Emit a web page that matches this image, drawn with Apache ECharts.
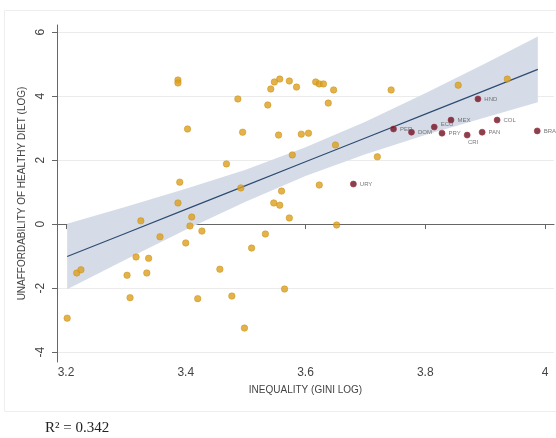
<!DOCTYPE html>
<html><head><meta charset="utf-8">
<script src="https://cdn.jsdelivr.net/npm/echarts@6/dist/echarts.min.js"></script>
<style>html,body{margin:0;padding:0;background:#fff}#c{width:556px;height:438px}</style>
</head><body><div id="c"></div>
<script>
// ---- data ----
const xTicks = [3.2, 3.4, 3.6, 3.8, 4];
const yTicks = [-4, -2, 0, 2, 4, 6];

// unlabelled (orange) countries: Gini log vs unaffordability log
const otherX = [3.387, 3.387, 3.403, 3.390, 3.387, 3.410, 3.407, 3.427, 3.400, 3.325,
                3.357, 3.317, 3.338, 3.302, 3.335, 3.307, 3.420, 3.218, 3.225, 3.202,
                3.557, 3.548, 3.542, 3.573, 3.585, 3.617, 3.623, 3.630, 3.647, 3.487,
                3.537, 3.638, 3.495, 3.555, 3.593, 3.605, 3.650, 3.578, 3.468, 3.492,
                3.560, 3.623, 3.547, 3.557, 3.573, 3.652, 3.533, 3.510, 3.457, 3.565,
                3.477, 3.498, 3.743, 3.855, 3.937, 3.720];
const otherY = [4.50, 4.41, 2.97, 1.31, 0.66, 0.22, -0.06, -0.22, -0.59, 0.10,
                -0.40, -1.03, -1.07, -1.60, -1.53, -2.30, -2.33, -1.53, -1.43, -2.94,
                4.53, 4.44, 4.22, 4.47, 4.28, 4.44, 4.38, 4.38, 4.19, 3.91,
                3.72, 3.78, 2.87, 2.78, 2.81, 2.84, 2.47, 2.16, 1.88, 1.13,
                1.03, 1.22, 0.66, 0.59, 0.19, -0.03, -0.31, -0.75, -1.41, -2.03,
                -2.25, -3.25, 4.19, 4.34, 4.53, 2.10];

// labelled (dark red) countries
const labCountries = ['URY', 'PER', 'DOM', 'ECU', 'PRY', 'MEX', 'CRI', 'PAN', 'HND', 'COL', 'BRA'];
const labX = [3.680, 3.747, 3.777, 3.815, 3.828, 3.843, 3.870, 3.895, 3.888, 3.920, 3.987];
const labY = [1.25, 2.97, 2.87, 3.03, 2.84, 3.25, 2.78, 2.87, 3.91, 3.25, 2.91];

// fitted line and its confidence band
const fitX  = [3.202, 3.3, 3.4, 3.5, 3.6, 3.7, 3.8, 3.9, 3.988];
const fitY  = [-1.015, -0.286, 0.458, 1.202, 1.946, 2.690, 3.434, 4.178, 4.833];
const ciLow = [-2.04, -1.11, -0.18, 0.70, 1.50, 2.18, 2.78, 3.33, 3.81];
const ciHigh= [0.01, 0.54, 1.10, 1.70, 2.40, 3.20, 4.09, 5.02, 5.86];

const xTitle = 'INEQUALITY (GINI LOG)';
const yTitle = 'UNAFFORDABILITY OF HEALTHY DIET (LOG)';
const r2Text = 'R\u00B2 = 0.342';

// ---- chart ----
const chart = echarts.init(document.getElementById('c'), null, {renderer: 'canvas'});
const font = 'Liberation Sans, Arial, sans-serif';

const bandRows = fitX.map((x, i) => [x, ciLow[i], ciHigh[i]]);

chart.setOption({
  animation: false,
  backgroundColor: '#ffffff',
  grid: {left: 57, top: 25, right: 2, bottom: 76, containLabel: false},
  xAxis: {
    type: 'value', min: 3.185, max: 4.015,
    axisLine: {show: true, lineStyle: {color: '#666', width: 1}},
    axisTick: {show: true, customValues: xTicks, length: 5, lineStyle: {color: '#666'}},
    axisLabel: {customValues: xTicks, margin: 5, color: '#444', fontSize: 12, fontFamily: font,
                formatter: v => String(Math.round(v * 10) / 10)},
    splitLine: {show: false},
    name: xTitle, nameLocation: 'middle', nameGap: 23,
    nameTextStyle: {color: '#444', fontSize: 10, fontFamily: font}
  },
  yAxis: {
    type: 'value', min: -4.31, max: 6.22,
    axisLine: {show: true, lineStyle: {color: '#666', width: 1}},
    axisTick: {show: true, customValues: yTicks, length: 5, lineStyle: {color: '#666'}},
    axisLabel: {customValues: yTicks, rotate: 90, margin: 10, color: '#444', fontSize: 12, fontFamily: font},
    splitLine: {show: true, lineStyle: {color: '#EBEBEB', width: 1}},
    name: yTitle, nameLocation: 'middle', nameGap: 30,
    nameTextStyle: {color: '#444', fontSize: 10, fontFamily: font}
  },
  graphic: [
    {type: 'rect', z: -10, silent: true, shape: {x: 4.5, y: 10.5, width: 600, height: 401},
     style: {fill: 'none', stroke: '#EEEEEE', lineWidth: 1}},
    {type: 'text', left: 45, top: 421, silent: true,
     style: {text: r2Text, fill: '#222', font: '15px "Liberation Serif", "Times New Roman", serif'}}
  ],
  series: [
    {
      type: 'custom', coordinateSystem: 'cartesian2d', z: 1, silent: true,
      data: bandRows, encode: {x: 0, y: [1, 2]},
      renderItem: (params, api) => {
        if (params.dataIndex !== 0) return null;
        const pts = [];
        for (let i = 0; i < bandRows.length; i++) pts.push(api.coord([bandRows[i][0], bandRows[i][2]]));
        for (let i = bandRows.length - 1; i >= 0; i--) pts.push(api.coord([bandRows[i][0], bandRows[i][1]]));
        return {type: 'polygon', shape: {points: pts}, style: {fill: '#D5DCE8'}};
      }
    },
    {
      type: 'line', z: 2, silent: true, symbol: 'none',
      data: fitX.map((x, i) => [x, fitY[i]]),
      lineStyle: {color: '#2E4C72', width: 1.2}
    },
    {
      type: 'scatter', z: 3, symbolSize: 6.5,
      data: otherX.map((x, i) => [x, otherY[i]]),
      itemStyle: {color: '#DC9F1E', borderColor: '#C8900F', borderWidth: 0.6}
    },
    {
      type: 'scatter', z: 4, symbolSize: 6,
      data: labX.map((x, i) => {
        const item = {value: [x, labY[i]], name: labCountries[i]};
        if (labCountries[i] === 'CRI') item.label = {position: 'bottom', offset: [6, -2]};
        if (labCountries[i] === 'ECU') item.label = {offset: [0, -3]};
        return item;
      }),
      itemStyle: {color: '#6A1222', borderColor: '#A83443', borderWidth: 0.8},
      label: {show: true, position: 'right', distance: 3, formatter: p => p.name,
              fontSize: 6, color: '#555', fontFamily: font}
    }
  ]
});
</script>
</body></html>
